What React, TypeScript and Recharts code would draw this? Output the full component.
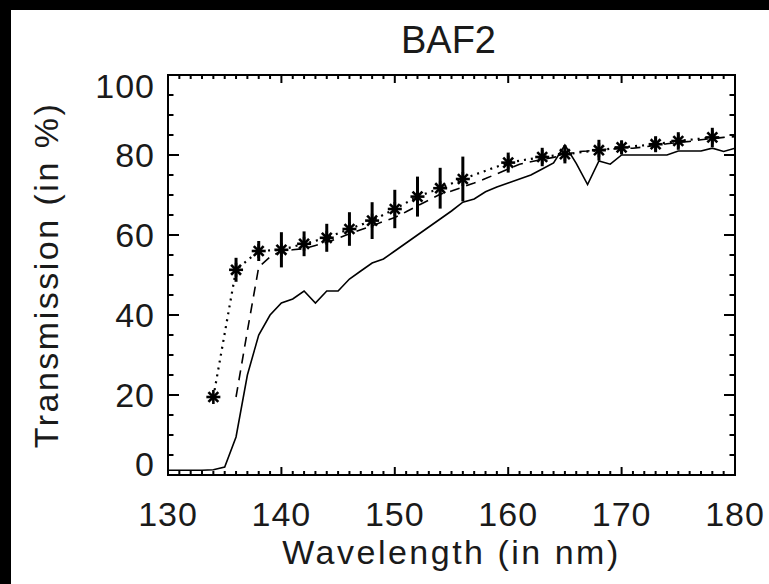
import React from "react";
import { ComposedChart, Line, XAxis, YAxis, ReferenceArea, ErrorBar } from "recharts";

// solid curve (1 nm steps)
const solidWave = [
  130, 131, 132, 133, 134, 135, 136, 137, 138, 139, 140, 141, 142, 143, 144, 145, 146,
  147, 148, 149, 150, 151, 152, 153, 154, 155, 156, 157, 158, 159, 160, 161, 162, 163,
  164, 165, 166, 167, 168, 169, 170, 171, 172, 173, 174, 175, 176, 177, 178, 179, 180,
];
const solidT = [
  1.2, 1.2, 1.2, 1.2, 1.3, 2, 9.5, 25, 35, 40, 43, 44, 46, 43, 46, 46, 49,
  51, 53, 54, 56, 58, 60, 62, 64, 66, 68.2, 69, 70.8, 72, 73, 74, 75, 76.5,
  78, 82.5, 77.9, 72.6, 78.5, 77.7, 80, 80, 80, 80, 80, 81, 81, 81, 81.7, 80.9, 81.7,
];

// dashed curve
const dashedWave = [
  136, 137, 138, 139, 140, 141, 142, 143, 144, 145, 146, 147, 148, 149, 150, 151, 152,
  153, 154, 155, 156, 157, 158, 159, 160, 161, 162, 163, 164, 165, 166, 167, 168, 169,
  170, 171, 172, 173, 174, 175, 176, 177, 178, 179, 180,
];
const dashedT = [
  19.5, 36, 52, 54.5, 56, 56.3, 56.6, 57.4, 58.2, 59.2, 60.3, 61.3, 62.3, 63.4, 64.4, 65.8, 67.3,
  68.7, 70.2, 71, 72, 73, 74.1, 75.3, 76.5, 77.7, 78.3, 78.9, 79.4, 80, 80.8, 81, 81.3, 81.5,
  81.6, 81.7, 82, 82.4, 82.8, 83.1, 83.4, 83.8, 84.1, 84.4, 84.6,
];

// measured points (dotted, asterisks, error bars)
const starWave = [134, 136, 138, 140, 142, 144, 146, 148, 150, 152, 154, 156, 160, 163, 165, 168, 170, 173, 175, 178];
const starT = [19.5, 51.3, 56, 56.3, 57.8, 59.3, 61.5, 63.6, 66.5, 69.6, 71.7, 74, 78.1, 79.5, 80.2, 81.2, 81.9, 82.7, 83.5, 84.4];
const starErr = [0, 3, 2.5, 4.4, 3.1, 3.5, 4.2, 4.6, 4.8, 5, 5.1, 5.6, 2.5, 2.3, 2.3, 2.6, 1.7, 2, 2.2, 2.4];

const xTicks = Array.from({ length: 51 }, (_, i) => 130 + i);
const yTicks = Array.from({ length: 21 }, (_, i) => i * 5);

const solidData = solidWave.map((w, i) => ({ w, t: solidT[i] }));
const dashedData = dashedWave.map((w, i) => ({ w, t: dashedT[i] }));
const starData = starWave.map((w, i) => ({ w, t: starT[i], err: starErr[i] }));

const W = 769;
const H = 584;
const M = { top: 75, right: 34, bottom: 49, left: 108 };
const Y_W = 60;
const X_H = 60;
const TOP = M.top;
const BOTTOM = H - M.bottom - X_H;
const LEFT = M.left + Y_W;
const RIGHT = W - M.right;

const FONT = "'Liberation Sans', Arial, sans-serif";
const INK = "#1a1a1a";

const XTick = (props: any) => {
  const { x, payload } = props;
  const v = payload.value;
  const major = v % 10 === 0;
  const len = major ? 8 : 4;
  return (
    <g>
      <line x1={x} x2={x} y1={BOTTOM} y2={BOTTOM - len} stroke="#000" strokeWidth={2} />
      <line x1={x} x2={x} y1={TOP} y2={TOP + len} stroke="#000" strokeWidth={2} />
      {major && (
        <text x={x} y={BOTTOM + 51} textAnchor="middle" fontFamily={FONT} fontSize={34} fill={INK} letterSpacing={1}>
          {v}
        </text>
      )}
    </g>
  );
};

const YTick = (props: any) => {
  const { y, payload } = props;
  const v = payload.value;
  const major = v % 20 === 0;
  const len = major ? 11 : 5.5;
  const shift = v === 100 ? 11 : v === 0 ? -11 : 0;
  return (
    <g>
      <line x1={LEFT} x2={LEFT + len} y1={y} y2={y} stroke="#000" strokeWidth={2} />
      <line x1={RIGHT} x2={RIGHT - len} y1={y} y2={y} stroke="#000" strokeWidth={2} />
      {major && (
        <text x={LEFT - 13} y={y + 12 + shift} textAnchor="end" fontFamily={FONT} fontSize={34} fill={INK} letterSpacing={1}>
          {v}
        </text>
      )}
    </g>
  );
};

const Star = (props: any) => {
  const { cx, cy } = props;
  if (cx == null || cy == null) return null;
  const r = 7;
  const d = r * 0.707;
  return (
    <g stroke="#000" strokeWidth={2.6}>
      <line x1={cx - r} x2={cx + r} y1={cy} y2={cy} />
      <line x1={cx} x2={cx} y1={cy - r} y2={cy + r} />
      <line x1={cx - d} x2={cx + d} y1={cy - d} y2={cy + d} />
      <line x1={cx - d} x2={cx + d} y1={cy + d} y2={cy - d} />
    </g>
  );
};

const XTitle = (props: any) => {
  const vb = props.viewBox;
  return (
    <text x={vb.x + vb.width / 2} y={BOTTOM + 89} textAnchor="middle" fontFamily={FONT} fontSize={34} fill={INK} letterSpacing={2.5}>
      Wavelength (in nm)
    </text>
  );
};

const YTitle = () => (
  <text
    transform={`translate(58, ${(TOP + BOTTOM) / 2}) rotate(-90)`}
    textAnchor="middle"
    fontFamily={FONT}
    fontSize={34}
    fill={INK}
    letterSpacing={2.5}
  >
    Transmission (in %)
  </text>
);

export default function App() {
  return (
    <div style={{ position: "absolute", left: 0, top: 0, width: W, height: H, background: "#000" }}>
      <div style={{ position: "absolute", left: 11, top: 10, width: W - 11, height: H - 10, background: "#fff" }} />
      <div
        style={{
          position: "absolute",
          left: 348.5,
          top: 21,
          width: 200,
          textAlign: "center",
          fontFamily: FONT,
          fontSize: 38,
          lineHeight: "38px",
          color: INK,
        }}
      >
        BAF2
      </div>
      <div style={{ position: "absolute", left: 0, top: 0 }}>
        <ComposedChart width={W} height={H} margin={M}>
          <XAxis
            dataKey="w"
            type="number"
            domain={[130, 180]}
            ticks={xTicks}
            interval={0}
            allowDataOverflow
            axisLine={false}
            tickLine={false}
            tickSize={0}
            tickMargin={0}
            height={X_H}
            tick={<XTick />}
            label={{ content: <XTitle /> }}
          />
          <YAxis
            type="number"
            domain={[0, 100]}
            ticks={yTicks}
            interval={0}
            allowDataOverflow
            axisLine={false}
            tickLine={false}
            tickSize={0}
            tickMargin={0}
            width={Y_W}
            tick={<YTick />}
            label={{ content: <YTitle /> }}
          />
          <Line
            data={solidData}
            dataKey="t"
            type="linear"
            stroke="#000"
            strokeWidth={1.6}
            dot={false}
            activeDot={false}
            isAnimationActive={false}
          />
          <Line
            data={dashedData}
            dataKey="t"
            type="linear"
            stroke="#000"
            strokeWidth={1.6}
            strokeDasharray="10 7"
            dot={false}
            activeDot={false}
            isAnimationActive={false}
          />
          <Line
            data={starData}
            dataKey="t"
            type="linear"
            stroke="#000"
            strokeWidth={2.2}
            strokeDasharray="2 5"
            dot={<Star />}
            activeDot={false}
            isAnimationActive={false}
          >
            <ErrorBar dataKey="err" width={0} strokeWidth={3} stroke="#000" direction="y" />
          </Line>
          <ReferenceArea x1={130} x2={180} y1={0} y2={100} fill="none" fillOpacity={0} stroke="#000" strokeWidth={2} ifOverflow="visible" />
        </ComposedChart>
      </div>
    </div>
  );
}
